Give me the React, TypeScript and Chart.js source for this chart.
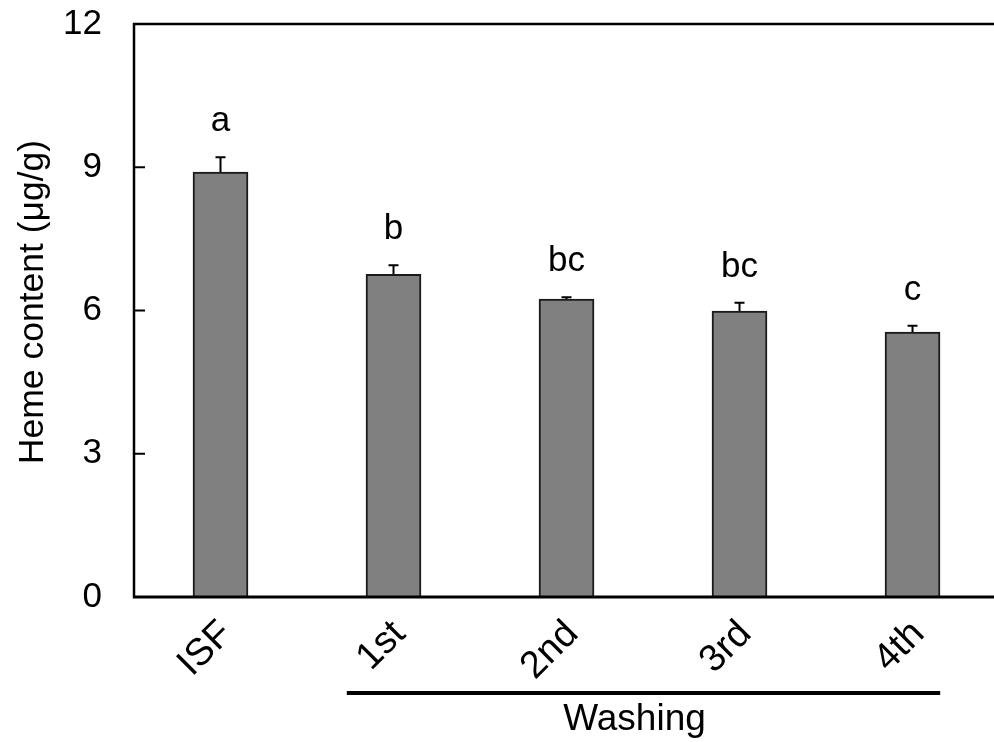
import React, { useEffect, useRef } from "react";
import { Chart, registerables } from "chart.js";

Chart.register(...registerables);

// Heme content per sample group (mean and standard error, µg/g)
const categories = ["ISF", "1st", "2nd", "3rd", "4th"];
const hemeMeans = [8.9, 6.76, 6.24, 5.99, 5.55];
const hemeErrors = [0.31, 0.19, 0.04, 0.17, 0.13];
const groupLetters = ["a", "b", "bc", "bc", "c"];
const yTickValues = [0, 3, 6, 9, 12];
const yTitle = "Heme content (μg/g)";
const washingLabel = "Washing";
const washingFrom = 1; // first washing category index
const washingTo = 4; // last washing category index

const FONT = '"Liberation Sans", Arial, Helvetica, sans-serif';

const decorPlugin = {
  id: "decor",
  afterDatasetsDraw(chart: any) {
    const { ctx, chartArea, scales } = chart;
    const xs = scales.x;
    const ys = scales.y;
    const meta = chart.getDatasetMeta(0);

    ctx.save();
    // Error bars (upper whisker with cap)
    ctx.strokeStyle = "#000";
    ctx.lineWidth = 2;
    meta.data.forEach((el: any, i: number) => {
      const top = ys.getPixelForValue(hemeMeans[i] + hemeErrors[i]);
      ctx.beginPath();
      ctx.moveTo(el.x, el.y);
      ctx.lineTo(el.x, top);
      ctx.moveTo(el.x - 5, top);
      ctx.lineTo(el.x + 5, top);
      ctx.stroke();

      // significance letters
      ctx.fillStyle = "#000";
      ctx.font = `35px ${FONT}`;
      ctx.textAlign = "center";
      ctx.textBaseline = "alphabetic";
      ctx.fillText(groupLetters[i], el.x, top - 26);
    });

    // Axis frame: left, bottom and top lines
    ctx.lineCap = "butt";
    ctx.lineWidth = 2.5;
    ctx.beginPath();
    ctx.moveTo(chartArea.left, chartArea.top - 1);
    ctx.lineTo(chartArea.left, chartArea.bottom + 1);
    ctx.stroke();
    ctx.lineWidth = 3;
    ctx.beginPath();
    ctx.moveTo(chartArea.left - 1, chartArea.bottom);
    ctx.lineTo(chartArea.right, chartArea.bottom);
    ctx.stroke();
    ctx.lineWidth = 2.5;
    ctx.beginPath();
    ctx.moveTo(chartArea.left - 1, chartArea.top);
    ctx.lineTo(chartArea.right, chartArea.top);
    ctx.stroke();

    // Inward tick marks on the y axis
    ctx.lineWidth = 2;
    yTickValues.forEach((v) => {
      const y = ys.getPixelForValue(v);
      ctx.beginPath();
      ctx.moveTo(chartArea.left, y);
      ctx.lineTo(chartArea.left + 11, y);
      ctx.stroke();
    });

    // Rotated category labels
    ctx.fillStyle = "#000";
    ctx.font = `38px ${FONT}`;
    categories.forEach((c, i) => {
      const x = xs.getPixelForValue(i);
      ctx.save();
      ctx.translate(x + 6, chartArea.bottom + 31);
      ctx.rotate(-Math.PI / 4);
      ctx.textAlign = "right";
      ctx.textBaseline = "middle";
      ctx.fillText(c, 0, 0);
      ctx.restore();
    });

    // Bracket line and label for the washing steps
    const lx0 = xs.getPixelForValue(washingFrom - 0.27);
    const lx1 = xs.getPixelForValue(washingTo + 0.16);
    ctx.lineWidth = 4;
    ctx.beginPath();
    ctx.moveTo(lx0, chartArea.bottom + 96);
    ctx.lineTo(lx1, chartArea.bottom + 96);
    ctx.stroke();
    ctx.font = `37px ${FONT}`;
    ctx.textAlign = "center";
    ctx.textBaseline = "alphabetic";
    ctx.fillText(washingLabel, (lx0 + lx1) / 2 - 9, chartArea.bottom + 133);

    // Y axis title
    ctx.font = `35.5px ${FONT}`;
    ctx.save();
    ctx.translate(43, 302);
    ctx.rotate(-Math.PI / 2);
    ctx.textAlign = "center";
    ctx.textBaseline = "alphabetic";
    ctx.fillText(yTitle, 0, 0);
    ctx.restore();

    ctx.restore();
  },
};

export default function App() {
  const canvasRef = useRef<HTMLCanvasElement | null>(null);

  useEffect(() => {
    const canvas = canvasRef.current;
    if (!canvas) return;
    const chart = new Chart(canvas, {
      type: "bar",
      data: {
        datasets: [
          {
            label: "Heme content",
            data: hemeMeans.map((v, i) => ({ x: i, y: v })),
            backgroundColor: "#808080",
            borderColor: "#1a1a1a",
            borderWidth: 2,
            barThickness: 55,
          },
        ],
      },
      options: {
        responsive: false,
        animation: false,
        events: [],
        layout: { padding: { top: 24, bottom: 145, left: 0, right: 0 } },
        plugins: {
          legend: { display: false },
          tooltip: { enabled: false },
        },
        scales: {
          x: {
            type: "linear",
            min: -0.5,
            max: 4.471,
            offset: false,
            display: false,
          },
          y: {
            min: 0,
            max: 12,
            afterBuildTicks: (scale: any) => {
              scale.ticks = yTickValues.map((v) => ({ value: v }));
            },
            afterFit: (scale: any) => {
              scale.width = 134;
              scale.paddingTop = 0;
              scale.paddingBottom = 0;
            },
            grid: { display: false, drawTicks: false },
            border: { display: false },
            ticks: {
              padding: 32,
              color: "#000",
              font: { family: FONT, size: 35 },
            },
          },
        },
      },
      plugins: [decorPlugin],
    });
    return () => chart.destroy();
  }, []);

  return (
    <div style={{ position: "absolute", left: 0, top: 0, width: 994, height: 742, background: "#fff" }}>
      <canvas ref={canvasRef} width={994} height={742} style={{ display: "block" }} />
    </div>
  );
}
